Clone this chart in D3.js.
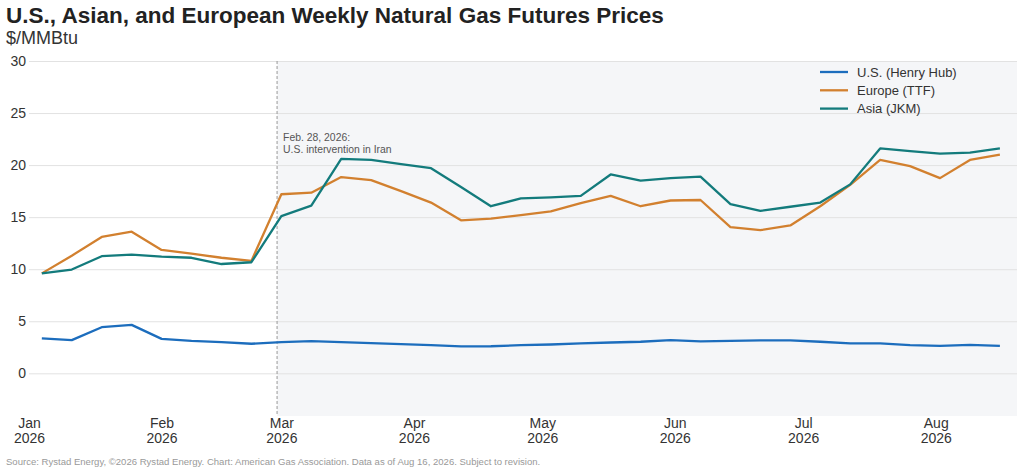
<!DOCTYPE html>
<html>
<head>
<meta charset="utf-8">
<script src="https://cdn.jsdelivr.net/npm/d3@7"></script>
<style>
  body { margin: 0; background: #fff; font-family: "Liberation Sans", Arial, sans-serif; }
  #container { width: 1024px; height: 472px; }
</style>
</head>
<body>
<div id="container"></div>
<script>
/**
 * CONSTANTS AND GLOBALS
 * */
const width = 1024,
  height = 472,
  margin = { top: 61, bottom: 56, left: 29, right: 7 };

let svg;

// weekly observations (Sundays), Jan 4 - Aug 16, 2026
const weeks = [
  "2026-01-04", "2026-01-11", "2026-01-18", "2026-01-25", "2026-02-01", "2026-02-08",
  "2026-02-15", "2026-02-22", "2026-03-01", "2026-03-08", "2026-03-15", "2026-03-22",
  "2026-03-29", "2026-04-05", "2026-04-12", "2026-04-19", "2026-04-26", "2026-05-03",
  "2026-05-10", "2026-05-17", "2026-05-24", "2026-05-31", "2026-06-07", "2026-06-14",
  "2026-06-21", "2026-06-28", "2026-07-05", "2026-07-12", "2026-07-19", "2026-07-26",
  "2026-08-02", "2026-08-09", "2026-08-16"
];

const henryHub = [
  3.35, 3.19, 4.43, 4.65, 3.31, 3.12, 3.0, 2.84, 3.0, 3.09, 3.0, 2.9,
  2.8, 2.7, 2.58, 2.6, 2.7, 2.77, 2.87, 2.96, 3.03, 3.19, 3.06, 3.12,
  3.16, 3.16, 3.03, 2.87, 2.87, 2.7, 2.64, 2.74, 2.64
];

const ttf = [
  9.6, 11.3, 13.1, 13.6, 11.85, 11.5, 11.1, 10.8, 17.2, 17.35, 18.85, 18.55,
  17.5, 16.4, 14.7, 14.85, 15.2, 15.55, 16.35, 17.05, 16.05, 16.6, 16.65, 14.05,
  13.75, 14.2, 16.05, 18.1, 20.5, 19.9, 18.75, 20.5, 21.0
];

const jkm = [
  9.6, 9.97, 11.25, 11.4, 11.2, 11.1, 10.5, 10.67, 15.1, 16.1, 20.6, 20.5,
  20.1, 19.7, 17.9, 16.05, 16.8, 16.9, 17.05, 19.1, 18.5, 18.75, 18.9, 16.25,
  15.6, 16.0, 16.4, 18.15, 21.6, 21.35, 21.1, 21.2, 21.6
];

const seriesNames = ["U.S. (Henry Hub)", "Europe (TTF)", "Asia (JKM)"];
const seriesColors = ["#1c6dbd", "#d2802f", "#137b7c"];
const yTicks = [0, 5, 10, 15, 20, 25, 30];
const monthTicks = ["2026-01-01", "2026-02-01", "2026-03-01", "2026-04-01",
  "2026-05-01", "2026-06-01", "2026-07-01", "2026-08-01"];
const eventDate = "2026-02-28";
const eventLabel = ["Feb. 28, 2026:", "U.S. intervention in Iran"];

const parse = d3.timeParse("%Y-%m-%d");

init();

function init() {
  const dates = weeks.map(parse);
  const series = [henryHub, ttf, jkm].map((vals, i) => ({
    name: seriesNames[i],
    color: seriesColors[i],
    values: vals.map((v, j) => ({ date: dates[j], value: v }))
  }));

  const xScale = d3.scaleTime()
    .domain([parse("2026-01-01"), parse("2026-08-20")])
    .range([margin.left, width - margin.right]);

  const yScale = d3.scaleLinear()
    .domain([-4.1, 30])
    .range([height - margin.bottom, margin.top]);

  svg = d3.select("#container")
    .append("svg")
    .attr("width", width)
    .attr("height", height)
    .style("font-family", "'Liberation Sans', Arial, sans-serif");

  // title
  svg.append("text")
    .attr("x", 6).attr("y", 23)
    .attr("font-size", 22.5).attr("font-weight", "bold").attr("fill", "#222")
    .text("U.S., Asian, and European Weekly Natural Gas Futures Prices");
  svg.append("text")
    .attr("x", 6).attr("y", 44)
    .attr("font-size", 18).attr("fill", "#333")
    .text("$/MMBtu");

  // shaded period after event
  const ex = xScale(parse(eventDate));
  svg.append("rect")
    .attr("x", ex).attr("y", margin.top)
    .attr("width", width - margin.right - ex)
    .attr("height", height - margin.bottom - margin.top)
    .attr("fill", "#f5f6f8");

  // y grid + labels
  const yAxis = d3.axisLeft(yScale)
    .tickValues(yTicks)
    .tickSize(-(width - margin.left - margin.right))
    .tickPadding(3);
  svg.append("g")
    .attr("transform", `translate(${margin.left},0)`)
    .call(yAxis)
    .call(g => g.select(".domain").remove())
    .call(g => g.selectAll(".tick line").attr("stroke", "#e2e2e2"))
    .call(g => g.selectAll(".tick text")
      .attr("font-size", 14).attr("fill", "#333")
      .attr("font-family", "'Liberation Sans', Arial, sans-serif"));

  // x labels (two lines)
  const xAxis = d3.axisBottom(xScale)
    .tickValues(monthTicks.map(parse))
    .tickSize(0)
    .tickFormat("");
  const xg = svg.append("g")
    .attr("transform", `translate(0,${height - margin.bottom})`)
    .call(xAxis)
    .call(g => g.select(".domain").remove());
  xg.selectAll(".tick").each(function (d) {
    const t = d3.select(this).append("text")
      .attr("text-anchor", "middle")
      .attr("font-size", 14).attr("fill", "#333")
      .attr("font-family", "'Liberation Sans', Arial, sans-serif");
    t.append("tspan").attr("x", 0).attr("y", 12).text(d3.timeFormat("%b")(d));
    t.append("tspan").attr("x", 0).attr("y", 27).text(d3.timeFormat("%Y")(d));
  });

  // event marker
  svg.append("line")
    .attr("x1", ex).attr("x2", ex)
    .attr("y1", margin.top).attr("y2", height - margin.bottom)
    .attr("stroke", "#999").attr("stroke-width", 1)
    .attr("stroke-dasharray", "3,2");
  svg.append("text")
    .attr("x", ex + 6).attr("y", 141)
    .attr("font-size", 10.4).attr("fill", "#555")
    .selectAll("tspan")
    .data(eventLabel)
    .join("tspan")
    .attr("x", ex + 6)
    .attr("dy", (d, i) => i === 0 ? 0 : 12)
    .text(d => d);

  // lines
  const lineGen = d3.line()
    .x(d => xScale(d.date))
    .y(d => yScale(d.value));

  svg.selectAll("path.series")
    .data(series)
    .join("path")
    .attr("class", "series")
    .attr("fill", "none")
    .attr("stroke", d => d.color)
    .attr("stroke-width", 2.3)
    .attr("stroke-linejoin", "round")
    .attr("d", d => lineGen(d.values));

  // legend
  const legend = svg.append("g")
    .selectAll("g")
    .data(series)
    .join("g")
    .attr("transform", (d, i) => `translate(820,${72 + i * 18.3})`);
  legend.append("line")
    .attr("x1", 0).attr("x2", 28)
    .attr("stroke", d => d.color).attr("stroke-width", 2.3);
  legend.append("text")
    .attr("x", 37).attr("dy", "0.35em")
    .attr("font-size", 13).attr("fill", "#333")
    .text(d => d.name);

  // footer
  svg.append("text")
    .attr("x", 6).attr("y", 465)
    .attr("font-size", 9.55).attr("fill", "#999")
    .text("Source: Rystad Energy, ©2026 Rystad Energy. Chart: American Gas Association. Data as of Aug 16, 2026. Subject to revision.");
}
</script>
</body>
</html>
